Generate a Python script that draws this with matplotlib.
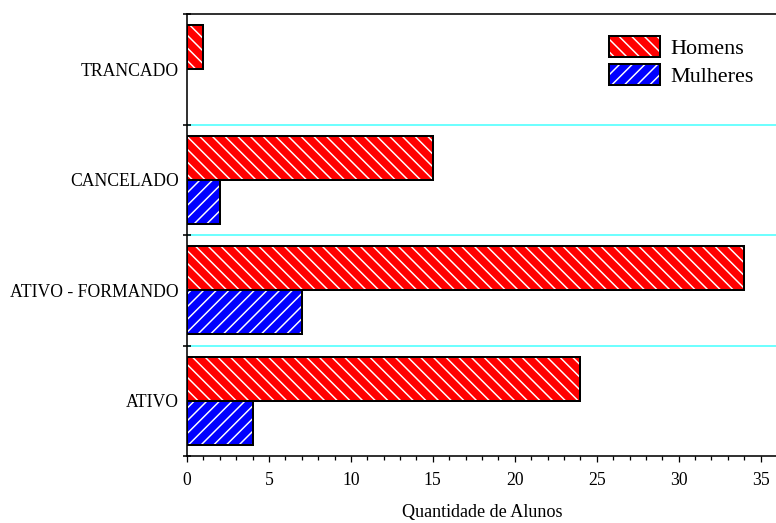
import matplotlib
matplotlib.use('Agg')
import matplotlib.pyplot as plt
import numpy as np
from matplotlib.patches import Patch

# dados
categorias = ['ATIVO', 'ATIVO - FORMANDO', 'CANCELADO', 'TRANCADO']
homens = [24, 34, 15, 1]
mulheres = [4, 7, 2, 0]

plt.rcParams['font.family'] = ['Liberation Serif', 'DejaVu Serif']
plt.rcParams['hatch.linewidth'] = 1.4

DPI = 76
fig = plt.figure(figsize=(776 / DPI, 523 / DPI), dpi=DPI)
ax = fig.add_axes([187 / 776, 1 - 456 / 523, 590 / 776, 442 / 523])

y = np.arange(len(categorias))
h = 0.4
lw = 1.9
fs = 16.7

# preenchimento com hachura branca
ax.barh(y + h / 2, homens, height=h, color='#ff0000', edgecolor='white',
        hatch='\\\\', linewidth=0, zorder=2)
ax.barh(y - h / 2, mulheres, height=h, color='#0000ff', edgecolor='white',
        hatch='//', linewidth=0, zorder=2)
# contorno preto
ax.barh(y + h / 2, homens, height=h, fill=False, edgecolor='black', linewidth=lw, zorder=3)
ax.barh([yy - h / 2 for yy, m in zip(y, mulheres) if m > 0],
        [m for m in mulheres if m > 0], height=h, fill=False,
        edgecolor='black', linewidth=lw, zorder=3)

ax.set_xlim(0, 36)
ax.set_ylim(-0.5, 3.5)

for b in [0.5, 1.5, 2.5]:
    ax.axhline(b, color='#55ffff', linewidth=1.6, zorder=1)

ax.set_yticks(y)
ax.set_yticklabels(categorias, fontsize=fs)
ax.set_yticks([-0.5, 0.5, 1.5, 2.5, 3.5], minor=True)
ax.tick_params(axis='y', which='major', length=0, pad=8)
ax.tick_params(axis='y', which='minor', direction='inout', length=8, width=1.5)

ax.set_xticks(np.arange(0, 36, 5))
ax.set_xticks(np.arange(0, 36, 1), minor=True)
ax.tick_params(axis='x', which='major', direction='out', length=6, width=1.2,
               labelsize=fs, pad=9)
ax.tick_params(axis='x', which='minor', direction='out', length=3.5, width=1.2)

ax.spines['right'].set_visible(False)
for s in ['left', 'bottom', 'top']:
    ax.spines[s].set_linewidth(1.5)

ax.set_xlabel('Quantidade de Alunos', fontsize=17.2, labelpad=14)

hh = (Patch(facecolor='#ff0000', edgecolor='white', hatch='\\\\', linewidth=0),
      Patch(fill=False, edgecolor='black', linewidth=lw))
mh = (Patch(facecolor='#0000ff', edgecolor='white', hatch='//', linewidth=0),
      Patch(fill=False, edgecolor='black', linewidth=lw))
ax.legend([hh, mh], ['Homens', 'Mulheres'], loc='upper left',
          bbox_to_anchor=(609 / 776, 1 - 36 / 523), bbox_transform=fig.transFigure,
          frameon=False, fontsize=21, handlelength=2.3, handleheight=1.05,
          labelspacing=0.25, handletextpad=0.45, borderaxespad=0, borderpad=0)

fig.savefig('out.png', dpi=DPI)
